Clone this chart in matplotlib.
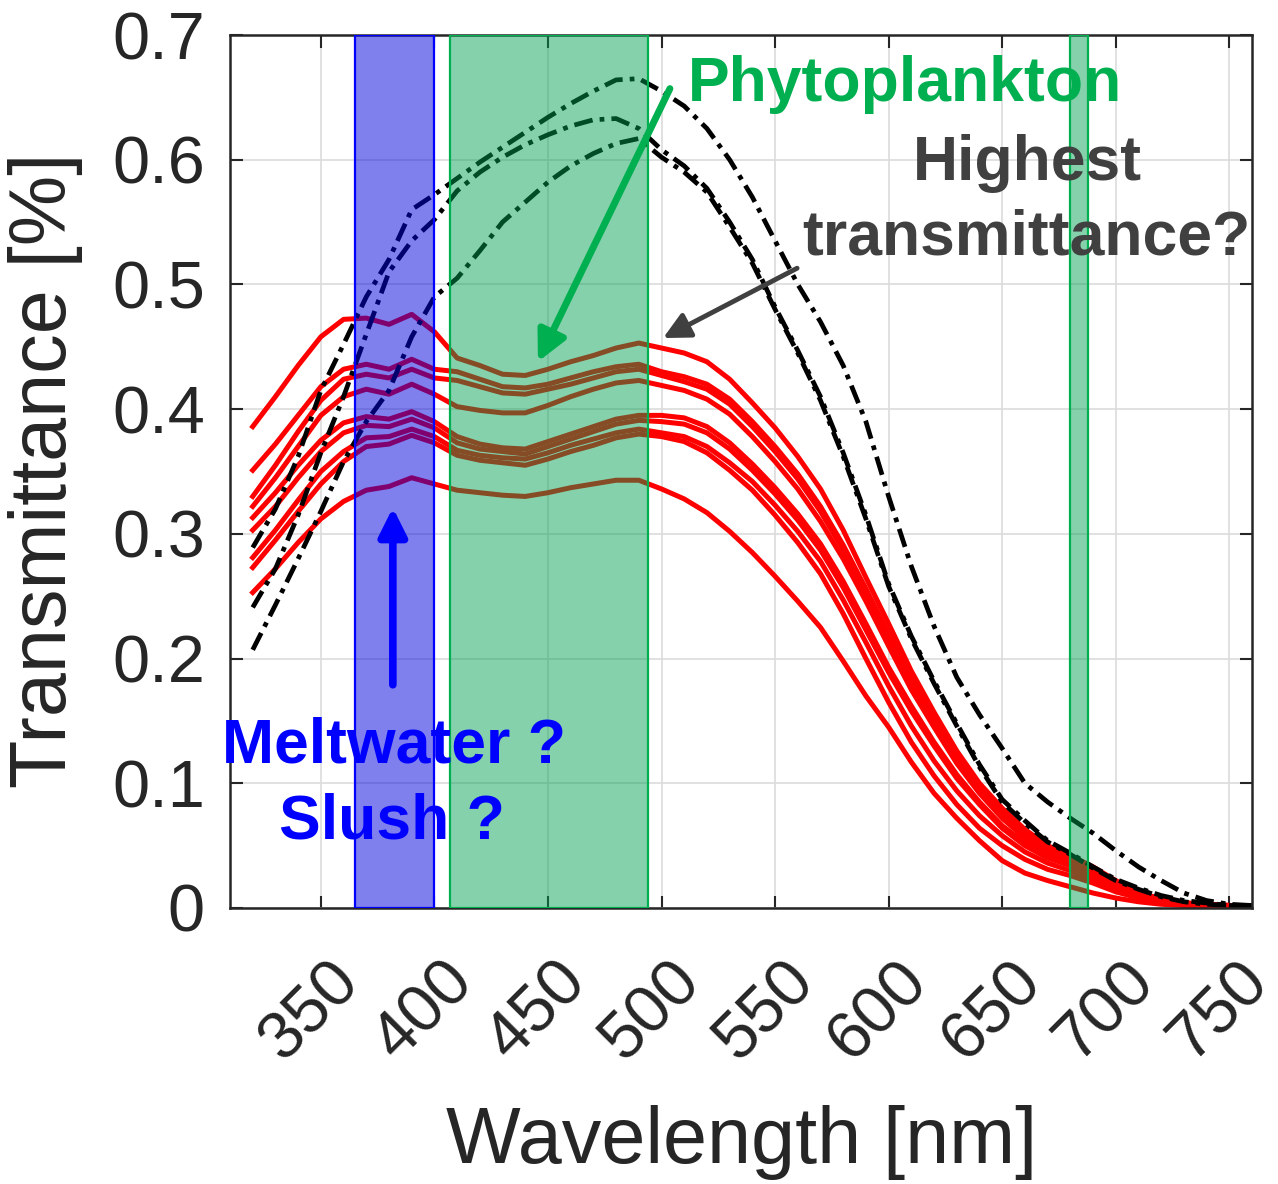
import matplotlib
matplotlib.use('Agg')
import matplotlib.pyplot as plt
from matplotlib.transforms import ScaledTranslation, blended_transform_factory

"""
Data read off the reference picture.
"""
wl = [320, 330, 340, 350, 360, 370, 380, 390, 400, 410, 420, 430, 440, 450, 460,
      470, 480, 490, 500, 510, 520, 530, 540, 550, 560, 570, 580, 590, 600, 610,
      620, 630, 640, 650, 660, 670, 680, 690, 700, 710, 720, 730, 740, 750, 760]

# red spectra
red1 = [.386, .410, .435, .458, .472, .473, .468, .476, .462, .441, .435, .428, .427, .432, .438,
        .443, .449, .453, .449, .445, .438, .424, .405, .385, .362, .336, .303, .265, .228, .190,
        .157, .126, .100, .080, .063, .050, .042, .033, .022, .013, .007, .004, .003, .002, .002]
red2 = [.351, .372, .395, .418, .432, .436, .432, .440, .432, .430, .424, .418, .417, .420, .425,
        .430, .434, .436, .430, .426, .420, .408, .390, .370, .348, .322, .291, .256, .220, .184,
        .152, .122, .097, .077, .060, .048, .040, .031, .021, .012, .007, .004, .003, .002, .002]
red3 = [.330, .355, .382, .407, .424, .428, .425, .432, .425, .423, .418, .413, .412, .416, .420,
        .425, .430, .432, .427, .422, .416, .404, .386, .366, .344, .318, .287, .252, .216, .180,
        .149, .120, .095, .075, .058, .046, .039, .030, .020, .012, .006, .004, .003, .002, .002]
red4 = [.322, .345, .370, .395, .410, .416, .412, .420, .412, .402, .399, .397, .397, .403, .410,
        .416, .421, .423, .419, .415, .408, .396, .378, .358, .336, .310, .280, .246, .210, .175,
        .145, .116, .092, .072, .056, .045, .038, .029, .019, .011, .006, .004, .003, .002, .002]
red5 = [.313, .333, .355, .375, .389, .394, .392, .398, .390, .378, .372, .369, .368, .374, .380,
        .386, .392, .395, .395, .393, .386, .373, .356, .337, .316, .292, .262, .228, .193, .162,
        .133, .107, .085, .066, .052, .042, .035, .027, .018, .010, .006, .003, .002, .002, .002]
red6 = [.303, .322, .345, .366, .381, .387, .386, .392, .385, .373, .368, .366, .364, .370, .376,
        .382, .388, .391, .390, .388, .381, .368, .351, .332, .311, .287, .257, .223, .189, .158,
        .130, .104, .083, .064, .050, .040, .034, .026, .017, .010, .005, .003, .002, .002, .002]
red7 = [.281, .303, .327, .350, .366, .377, .378, .384, .378, .367, .363, .361, .360, .365, .371,
        .376, .381, .384, .381, .378, .370, .357, .342, .323, .302, .278, .247, .213, .178, .146,
        .118, .094, .074, .058, .045, .036, .030, .023, .015, .009, .005, .003, .002, .002, .002]
red8 = [.273, .295, .318, .340, .358, .370, .372, .379, .373, .363, .359, .357, .355, .360, .366,
        .371, .377, .380, .378, .374, .365, .351, .335, .315, .293, .268, .236, .200, .165, .133,
        .106, .083, .064, .050, .039, .031, .026, .020, .013, .008, .004, .003, .002, .002, .002]
red9 = [.253, .272, .293, .312, .326, .335, .338, .345, .340, .335, .333, .331, .330, .333, .337,
        .340, .343, .343, .336, .328, .317, .302, .285, .266, .246, .225, .198, .170, .145, .117,
        .092, .072, .054, .038, .028, .022, .017, .012, .008, .005, .003, .002, .002, .002, .002]

# black spectra
black1 = [.289, .320, .362, .415, .452, .490, .520, .560, .572, .585, .598, .610, .622, .634, .645,
          .655, .664, .665, .655, .643, .625, .600, .570, .535, .500, .470, .435, .390, .330, .274,
          .226, .185, .155, .128, .100, .085, .072, .060, .046, .033, .022, .012, .006, .003, .002]
black2 = [.241, .272, .315, .365, .410, .460, .510, .535, .552, .575, .590, .602, .612, .620, .627,
          .632, .633, .625, .608, .595, .577, .550, .520, .482, .447, .410, .365, .315, .260, .218,
          .182, .148, .115, .087, .070, .054, .044, .033, .023, .016, .010, .006, .004, .002, .002]
black3 = [.207, .243, .280, .318, .358, .390, .415, .458, .490, .505, .527, .550, .566, .582, .595,
          .605, .613, .617, .602, .590, .574, .546, .517, .480, .445, .407, .362, .312, .258, .216,
          .180, .146, .113, .085, .068, .053, .043, .032, .022, .015, .009, .005, .003, .002, .002]

red_curves = [red1, red2, red3, red4, red5, red6, red7, red8, red9]
black_curves = [black1, black2, black3]

# shaded wavelength bands
blue_band = (365, 400)
green_bands = [(407, 494), (680, 688)]

x_ticks = [350, 400, 450, 500, 550, 600, 650, 700, 750]
y_ticks = [0, 0.1, 0.2, 0.3, 0.4, 0.5, 0.6, 0.7]
y_labels = ['0', '0.1', '0.2', '0.3', '0.4', '0.5', '0.6', '0.7']

"""
Plot.
"""
plt.rcParams['font.family'] = ['Liberation Sans', 'DejaVu Sans']
dark = '#262626'

fig = plt.figure(figsize=(12.78, 11.84), dpi=100)
ax = fig.add_axes([230 / 1278, 276 / 1184, 1022 / 1278, 873 / 1184])

for curve in red_curves:
    ax.plot(wl, curve, color='#ff0000', lw=3.6, zorder=2)
for curve in black_curves:
    ax.plot(wl, curve, color='black', lw=3.4, ls=(0, (4, 1.5, 1, 1.5)), zorder=2)

ax.axvspan(blue_band[0], blue_band[1], facecolor='#0000dd', alpha=0.5, lw=0, zorder=3)
ax.axvspan(blue_band[0], blue_band[1], fill=False, edgecolor='#0000ff', lw=1.6, zorder=3)
for lo, hi in green_bands:
    ax.axvspan(lo, hi, facecolor='#00a050', alpha=0.48, lw=0, zorder=3)
    ax.axvspan(lo, hi, fill=False, edgecolor='#00b050', lw=1.6, zorder=3)

ax.set_xlim(310, 760)
ax.set_ylim(0, 0.7)
ax.set_xticks(x_ticks)
ax.set_xticklabels([])
ax.set_yticks(y_ticks)
ax.set_yticklabels(y_labels)
ax.grid(True, color='#dcdcdc', lw=1.2)
ax.set_axisbelow(True)
ax.tick_params(direction='in', length=9, width=1.5, top=True, right=True,
               colors=dark, labelsize=48)
ax.tick_params(axis='y', pad=18)
for s in ax.spines.values():
    s.set_color(dark)
    s.set_linewidth(1.8)

# rotated x tick labels
trans = blended_transform_factory(ax.transData, ax.transAxes)
off = ScaledTranslation(-0.10, -1.03, fig.dpi_scale_trans)
for v in x_ticks:
    ax.text(v, 0, str(v), transform=trans + off, rotation=45, ha='center', va='center',
            rotation_mode='anchor', fontsize=48, color=dark)

fig.text(46 / 1278, 1 - 470 / 1184, 'Transmittance [%]', rotation=90, ha='center',
         va='center', fontsize=57, color=dark)
fig.text(742 / 1278, 1 - 1143 / 1184, 'Wavelength [nm]', ha='center', va='center',
         fontsize=57, color=dark)

"""
Annotations.
"""
ax.annotate('', xy=(445.6, 0.438), xytext=(503.7, 0.657), zorder=5,
            arrowprops=dict(arrowstyle='-|>', color='#00b050', lw=5, mutation_scale=45,
                            shrinkA=0, shrinkB=0), annotation_clip=False)
ax.annotate('', xy=(500.7, 0.457), xytext=(559.7, 0.513), zorder=5,
            arrowprops=dict(arrowstyle='-|>', color='#404040', lw=3.5, mutation_scale=40,
                            shrinkA=0, shrinkB=0), annotation_clip=False)
ax.annotate('', xy=(381.7, 0.321), xytext=(381.7, 0.179), zorder=5,
            arrowprops=dict(arrowstyle='-|>', color='#0000ff', lw=5.5, mutation_scale=42,
                            shrinkA=0, shrinkB=0), annotation_clip=False)

ax.text(607.3, 0.647, 'Phytoplankton', color='#00b050', fontsize=45, fontweight='bold',
        ha='center', va='baseline', zorder=6)
ax.text(661.2, 0.584, 'Highest', color='#404040', fontsize=45, fontweight='bold',
        ha='center', va='baseline', zorder=6)
ax.text(660.6, 0.524, 'transmittance?', color='#404040', fontsize=45, fontweight='bold',
        ha='center', va='baseline', zorder=6)
ax.text(382.2, 0.117, 'Meltwater ?', color='#0000ff', fontsize=45, fontweight='bold',
        ha='center', va='baseline', zorder=6)
ax.text(381.5, 0.056, 'Slush ?', color='#0000ff', fontsize=45, fontweight='bold',
        ha='center', va='baseline', zorder=6)

fig.savefig('out.png', dpi=100)
